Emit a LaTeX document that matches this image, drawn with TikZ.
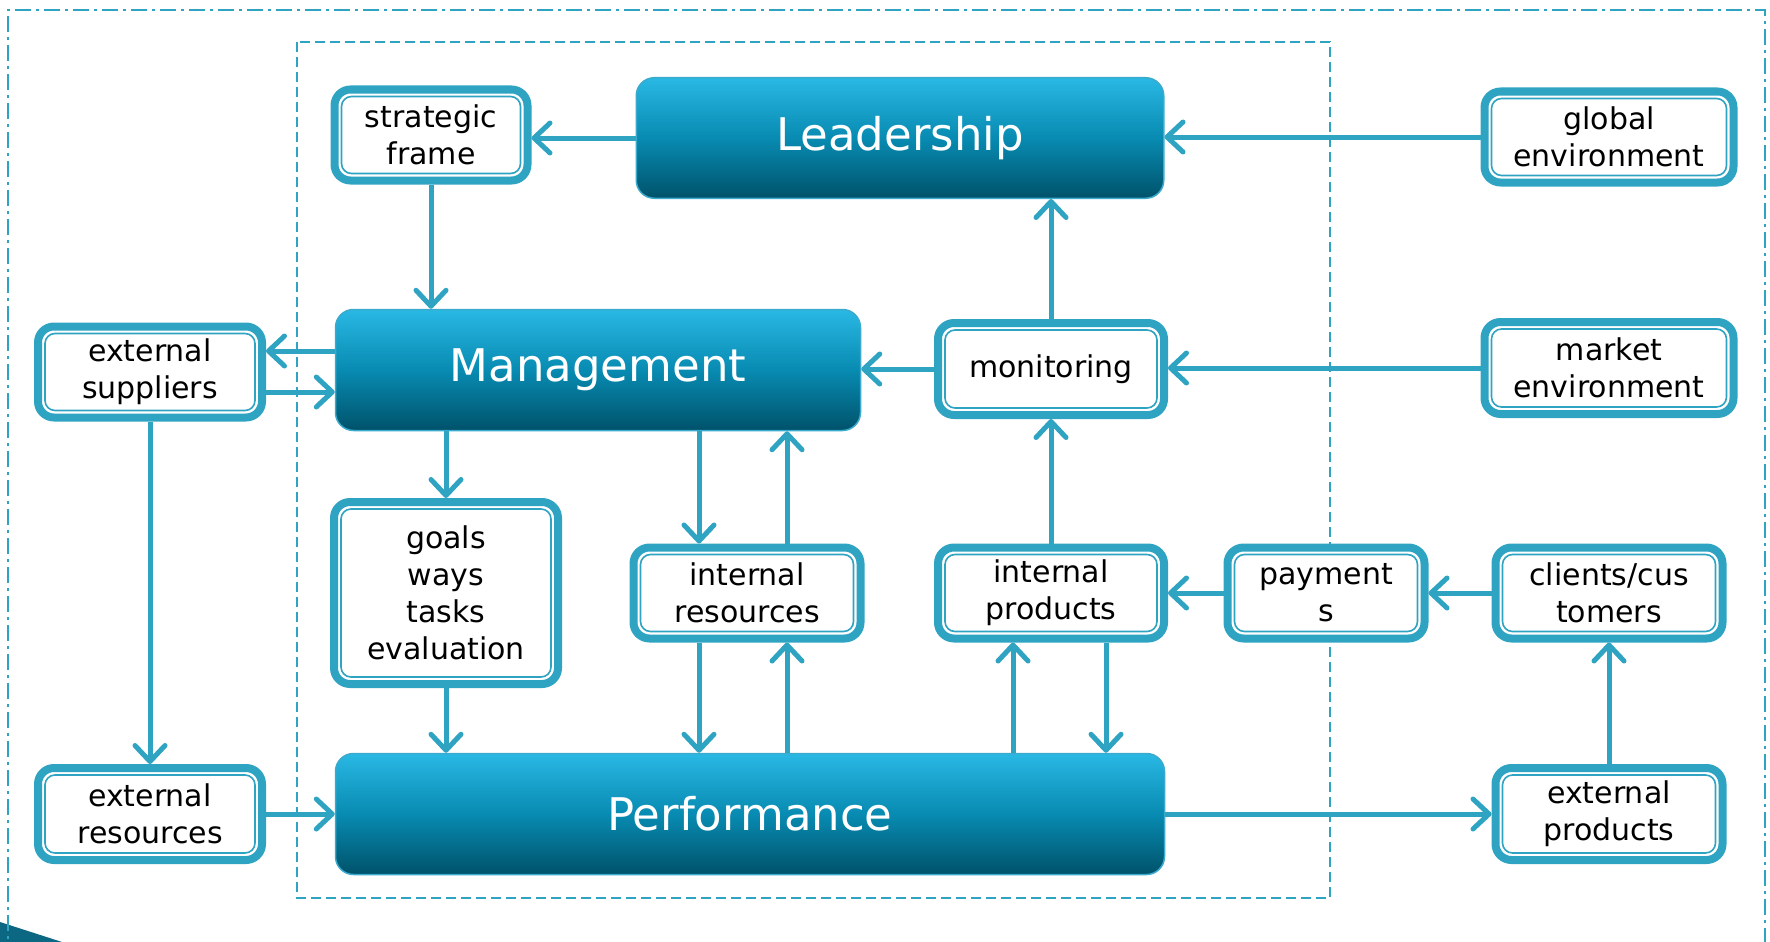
\documentclass[tikz,border=0pt]{standalone}
\usepackage{fontspec}
\setmainfont{DejaVu Sans}
\usetikzlibrary{arrows.meta,calc}
\definecolor{teal1}{RGB}{46,163,194}
\definecolor{btop}{RGB}{41,184,228}
\definecolor{bmid}{RGB}{8,139,178}
\definecolor{bbot}{RGB}{0,82,106}
\definecolor{bedge}{RGB}{58,170,205}
\definecolor{deco}{RGB}{12,104,130}
\begin{document}
\begin{tikzpicture}[x=1pt,y=-1pt,
  wbox/.style={draw=teal1, line width=8pt, rounded corners=16pt, fill=white,
    align=center, inner sep=0pt, font=\fontsize{30}{37}\selectfont,
    path picture={\draw[teal1, line width=1.6pt, rounded corners=10pt]
      ([xshift=7pt,yshift=-7pt]path picture bounding box.north west) rectangle
      ([xshift=-7pt,yshift=7pt]path picture bounding box.south east);}},
  bbox/.style={draw=bedge, line width=1.5pt, rounded corners=18pt,
    top color=btop, bottom color=bbot, middle color=bmid, text=white,
    inner sep=0pt, font=\fontsize{45}{54}\selectfont},
  arr/.style={draw=teal1, line width=5pt, -{Straight Barb[length=16pt,width=30pt,round]}},
  frameline/.style={draw=teal1, line width=1.8pt}
]
\useasboundingbox (0,0) rectangle (1770,942);
% decoration and frames
\fill[deco] (0,922) -- (62,942) -- (0,942) -- cycle;
\draw[frameline, dash pattern=on 16pt off 5pt on 3pt off 5pt] (8,960) -- (8,10) -- (1765,10) -- (1765,960);
\draw[frameline, dash pattern=on 10pt off 5pt] (297,42) rectangle (1330,898);

% helper coordinates
\coordinate (ya) at (0,351);
\coordinate (yb) at (0,392);
\coordinate (xa) at (699,0);
\coordinate (xb) at (787,0);
\coordinate (xc) at (1013,0);
\coordinate (xd) at (1106,0);

% nodes
\node[bbox, minimum width=527.5pt, minimum height=120.5pt] (lead) at (900,138) {Leadership};
\node[bbox, minimum width=525pt, minimum height=121pt] (mgmt) at (598,370) {Management};
\node[bbox, minimum width=829pt, minimum height=121pt] (perf) at (750,814) {Performance};

\node[wbox, minimum width=193pt, minimum height=91pt] (sf) at (431,135) {strategic\\frame};
\node[wbox, minimum width=249pt, minimum height=91pt] (glob) at (1609,137) {global\\environment};
\node[wbox, minimum width=224pt, minimum height=91pt] (esup) at (150,372) {external\\suppliers};
\node[wbox, minimum width=226pt, minimum height=92pt] (mon) at (1051,369) {monitoring};
\node[wbox, minimum width=249pt, minimum height=92pt] (mkt) at (1609,368) {market\\environment};
\node[wbox, minimum width=224pt, minimum height=182pt] (goals) at (446,593) {goals\\ways\\tasks\\evaluation};
\node[wbox, minimum width=227pt, minimum height=91pt] (ires) at (747,593) {internal\\resources};
\node[wbox, minimum width=226pt, minimum height=91pt] (iprod) at (1051,593) {internal\\products};
\node[wbox, minimum width=197pt, minimum height=91pt] (pay) at (1326,593) {payment\\s};
\node[wbox, minimum width=227pt, minimum height=91pt] (cli) at (1609,593) {clients/cus\\tomers};
\node[wbox, minimum width=224pt, minimum height=92pt] (eres) at (150,814) {external\\resources};
\node[wbox, minimum width=227pt, minimum height=92pt] (eprod) at (1609,814) {external\\products};

% connectors
\draw[arr] (lead.west) -- (lead.west -| sf.east);
\draw[arr] (glob.west) -- (glob.west -| lead.east);
\draw[arr] (sf.south) -- (sf.south |- mgmt.north);
\draw[arr] (mgmt.west |- ya) -- (ya -| esup.east);
\draw[arr] (esup.east |- yb) -- (yb -| mgmt.west);
\draw[arr] (mon.west) -- (mon.west -| mgmt.east);
\draw[arr] (mkt.west) -- (mkt.west -| mon.east);
\draw[arr] (mon.north) -- (mon.north |- lead.south);
\draw[arr] (mgmt.south -| goals.north) -- (goals.north);
\draw[arr] (goals.south) -- (goals.south |- perf.north);
\draw[arr] (mgmt.south -| xa) -- (ires.north -| xa);
\draw[arr] (ires.north -| xb) -- (mgmt.south -| xb);
\draw[arr] (ires.south -| xa) -- (perf.north -| xa);
\draw[arr] (perf.north -| xb) -- (ires.south -| xb);
\draw[arr] (perf.north -| xc) -- (iprod.south -| xc);
\draw[arr] (iprod.south -| xd) -- (perf.north -| xd);
\draw[arr] (iprod.north) -- (mon.south);
\draw[arr] (pay.west) -- (iprod.east);
\draw[arr] (cli.west) -- (pay.east);
\draw[arr] (eprod.north) -- (cli.south);
\draw[arr] (perf.east |- eprod.west) -- (eprod.west);
\draw[arr] (eres.east) -- (eres.east -| perf.west);
\draw[arr] (esup.south) -- (eres.north);
\end{tikzpicture}
\end{document}
